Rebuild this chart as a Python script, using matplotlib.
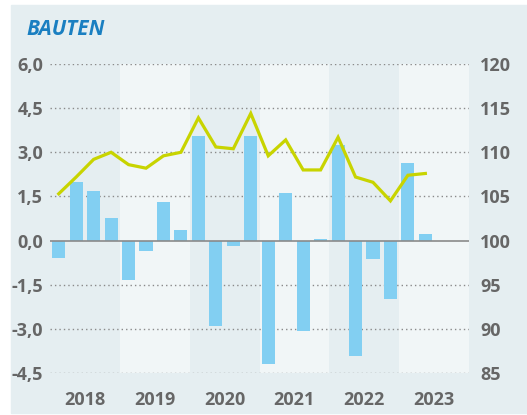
import matplotlib.pyplot as plt
from matplotlib.patches import Rectangle

# quarterly change (left axis) and index (right axis)
years = ["2018", "2019", "2020", "2021", "2022", "2023"]
change = [-0.6, 2.0, 1.7, 0.75, -1.33, -0.37, 1.3, 0.37,
          3.57, -2.89, -0.17, 3.57, -4.21, 1.63, -3.06, 0.07,
          3.26, -3.91, -0.61, -1.97, 2.65, 0.24]
index = [105.3, 107.2, 109.2, 110.0, 108.6, 108.2, 109.6, 110.0,
         113.9, 110.6, 110.4, 114.4, 109.6, 111.4, 108.0, 108.0,
         111.7, 107.2, 106.6, 104.5, 107.4, 107.6]
left_ticks = [-4.5, -3.0, -1.5, 0.0, 1.5, 3.0, 4.5, 6.0]
right_ticks = [85, 90, 95, 100, 105, 110, 115, 120]

W, H = 527, 415
panel = "#e5eef1"
band = "#f1f6f7"
bar_col = "#82cff2"
line_col = "#c8d400"
txt = "#666666"
font = "Open Sans"

fig = plt.figure(figsize=(W / 100, H / 100), dpi=100)
fig.patch.set_facecolor("white")
fig.patches.append(Rectangle((11 / W, 2 / H), 516 / W, 408 / H,
                             transform=fig.transFigure, color=panel, zorder=-5))

ax = fig.add_axes([50 / W, 42 / H, 419 / W, 309 / H])
ax.set_facecolor(panel)
x = list(range(len(change)))

for k in range(len(years)):
    if k % 2 == 1:
        ax.axvspan(4 * k - 0.5, 4 * k + 3.5, color=band, lw=0, zorder=0)

for t in left_ticks:
    if t == 0:
        ax.axhline(t, color="#8a8a8a", lw=1.2, zorder=3)
    else:
        ax.axhline(t, color="#8a8a8a", lw=1.0, ls=(0, (1, 2.2)), zorder=1)

ax.bar(x, change, width=0.75, color=bar_col, zorder=2)
ax.set_xlim(-0.5, 4 * len(years) - 0.5)
ax.set_ylim(-4.5, 6.0)
ax.set_yticks(left_ticks)
ax.set_yticklabels([f"{t:.1f}".replace(".", ",") for t in left_ticks])
ax.set_xticks([4 * k + 1.5 for k in range(len(years))])
ax.set_xticklabels(years)
ax.tick_params(axis="y", length=0, pad=5, labelsize=13, labelcolor=txt)
ax.tick_params(axis="x", length=0, pad=13, labelsize=13, labelcolor=txt)
for s in ax.spines.values():
    s.set_visible(False)

ax2 = ax.twinx()
ax2.plot(x, index, color=line_col, lw=2.3, solid_joinstyle="miter", zorder=4)
ax2.set_ylim(85, 120)
ax2.set_yticks(right_ticks)
ax2.set_yticklabels([str(t) for t in right_ticks])
ax2.tick_params(axis="y", length=0, pad=8, labelsize=13, labelcolor=txt)
for s in ax2.spines.values():
    s.set_visible(False)

for lab in ax.get_xticklabels() + ax.get_yticklabels() + ax2.get_yticklabels():
    lab.set_fontfamily(font)
    lab.set_fontweight("bold")

fig.text(26 / W, 1 - 35 / H, "BAUTEN", fontsize=15, fontweight="bold",
         fontstyle="italic", color="#1a7fc1", family=font, va="baseline")

fig.savefig("out.png", dpi=100)
